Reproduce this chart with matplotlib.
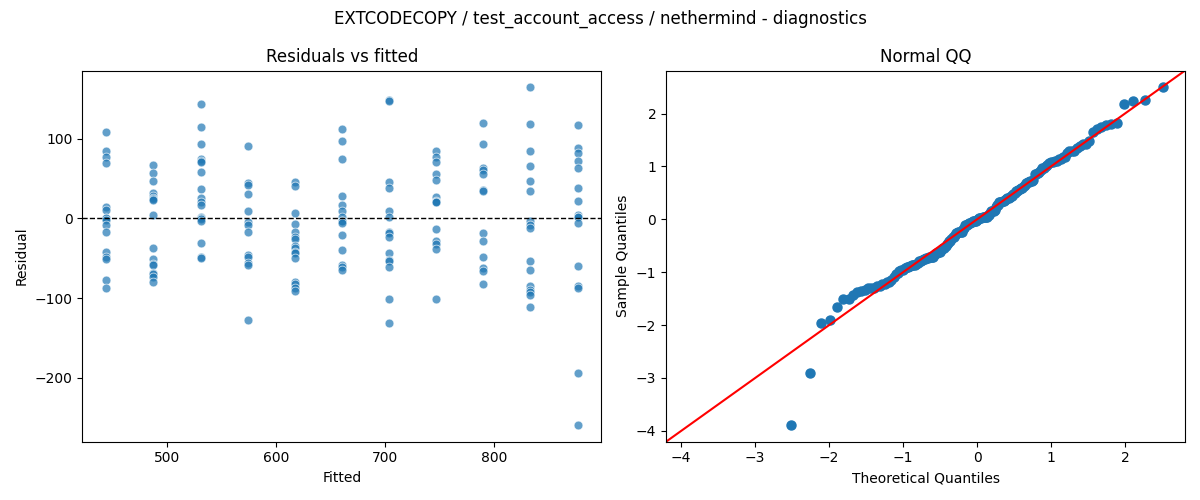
import numpy as np
import matplotlib
matplotlib.use("Agg")
import matplotlib.pyplot as plt
from statistics import NormalDist

# fitted value of each group (x position of the columns)
fitted_levels = [444, 487, 531, 574, 618, 661, 704, 747, 790, 833, 877]

# residuals, one list per fitted value
# (darker spots are taken as two overlapping points)
resid_444 = [108, 84, 77, 69, 14, 11, 0, 0, -2, -8, -17, -42, -49, -51, -77, -87]
resid_487 = [67, 57, 47, 32, 28, 26, 24, 23, 4, -37, -51, -57, -58, -68, -70, -74, -80]
resid_531 = [143, 115, 93, 74, 72, 71, 58, 37, 26, 20, 17, 2, 0, -1, -3, -31, -49, -50]
resid_574 = [90, 44, 42, 30, 9, -5, -9, -17, -46, -48, -56, -59, -128]
resid_618 = [46, 41, 7, -7, -17, -23, -26, -35, -37, -42, -44, -50, -80, -83, -87, -91]
resid_661 = [112, 97, 74, 28, 17, 9, 2, -4, -4, -6, -21, -40, -58, -61, -65]
resid_704 = [148, 147, 45, 38, 9, 2, -17, -19, -23, -44, -52, -54, -61, -101, -131]
resid_747 = [84, 77, 71, 56, 48, 27, 22, 21, 20, -14, -29, -32, -39, -101]
resid_790 = [119, 93, 63, 61, 56, 35, 34, -19, -28, -49, -62, -66, -83]
resid_833 = [164, 118, 84, 65, 47, 34, -4, -8, -12, -54, -65, -85, -90, -93, -96, -111]
resid_877 = [117, 88, 82, 72, 63, 38, 22, 4, 2, 2, -6, -60, -85, -87, -194, -259]

groups = [resid_444, resid_487, resid_531, resid_574, resid_618, resid_661,
          resid_704, resid_747, resid_790, resid_833, resid_877]

fitted = []
resid = []
for f, g in zip(fitted_levels, groups):
    fitted += [f] * len(g)
    resid += g
fitted = np.array(fitted, dtype=float)
resid = np.array(resid, dtype=float)

fig, (ax1, ax2) = plt.subplots(1, 2, figsize=(12, 5), dpi=100)

# residuals vs fitted
ax1.scatter(fitted, resid, s=40, color="C0", alpha=0.7, edgecolors="white", linewidths=0.6)
ax1.axhline(0, color="black", linestyle="--", linewidth=1)
ax1.set_xlabel("Fitted")
ax1.set_ylabel("Residual")
ax1.set_title("Residuals vs fitted")

# normal QQ (standardized, 45 degree line)
n = len(resid)
sample = np.sort((resid - resid.mean()) / resid.std())
nd = NormalDist()
theo = np.array([nd.inv_cdf(i / (n + 1.0)) for i in range(1, n + 1)])
ax2.set_xmargin(0.02)
ax2.plot(theo, sample, marker="o", linestyle="none", color="C0", markersize=6.5)
xl = ax2.get_xlim()
yl = ax2.get_ylim()
ends = [min(xl[0], yl[0]), max(xl[1], yl[1])]
ax2.plot(ends, ends, "r-")
ax2.set_xlim(ends)
ax2.set_ylim(ends)
ax2.set_xlabel("Theoretical Quantiles")
ax2.set_ylabel("Sample Quantiles")
ax2.set_title("Normal QQ")

fig.suptitle("EXTCODECOPY / test_account_access / nethermind - diagnostics")
fig.tight_layout()
fig.savefig("out.png")
